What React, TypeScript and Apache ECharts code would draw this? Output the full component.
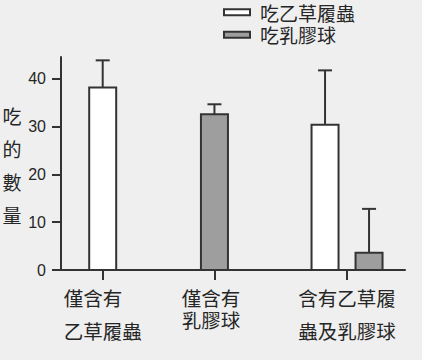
import React, { useEffect, useRef } from 'react';
import * as echarts from 'echarts';

// ---- data ----
const categories = ['僅含有\n乙草履蟲', '僅含有\n乳膠球', '含有乙草履\n蟲及乳膠球'];
const seriesNames = ['吃乙草履蟲', '吃乳膠球'];
const preyMean = [38.2, null, 30.4];
const preyErrTop = [43.9, null, 41.8];
const beadMean = [null, 32.6, 3.6];
const beadErrTop = [null, 34.7, 12.8];
const yTicks = [0, 10, 20, 30, 40];
const yTitle = '吃的數量';

// ---- layout (axis positions of the groups, in x-axis units) ----
const groupPos = [1, 3.68, 6.86];
const xMax = 8.25;
const yMax = 44.6;

const CJK = '"Noto Sans CJK TC", "Noto Sans CJK SC", sans-serif';
const LINE = '#333';
const BG = '#efefef';
const TXT = '#262626';
const FS = 19.5;

function buildData(mean: (number | null)[], err: (number | null)[], other: (number | null)[], side: number) {
  const out: any[] = [];
  mean.forEach((m, i) => {
    if (m == null) return;
    const shared = other[i] != null ? side : 0;
    out.push([groupPos[i], m, err[i], shared]);
  });
  return out;
}

function renderBar(fill: string) {
  return (params: any, api: any) => {
    const x = api.value(0);
    const y = api.value(1);
    const e = api.value(2);
    const side = api.value(3);
    const base = api.coord([x, 0]);
    const top = api.coord([x, y]);
    const et = api.coord([x, e]);
    const cx = base[0] + side * 22;
    const w = 27;
    return {
      type: 'group',
      children: [
        {
          type: 'line',
          shape: { x1: cx, y1: top[1], x2: cx, y2: et[1] },
          style: { stroke: LINE, lineWidth: 2 },
        },
        {
          type: 'line',
          shape: { x1: cx - 7, y1: et[1], x2: cx + 7, y2: et[1] },
          style: { stroke: LINE, lineWidth: 2 },
        },
        {
          type: 'rect',
          shape: { x: cx - w / 2, y: top[1], width: w, height: base[1] - top[1] },
          style: { fill, stroke: LINE, lineWidth: 2 },
        },
      ],
    };
  };
}

export default function App() {
  const ref = useRef<HTMLDivElement>(null);
  useEffect(() => {
    if (!ref.current) return;
    const chart = echarts.init(ref.current, null, { renderer: 'svg' });
    const fills = ['#ffffff', '#9e9e9e'];
    const tok = { fontFamily: CJK, fontSize: FS, color: TXT, align: 'left' };
    const option: any = {
      animation: false,
      backgroundColor: BG,
      grid: { left: 61, right: 17, top: 57, bottom: 90 },
      legend: {
        orient: 'vertical',
        left: 223,
        top: 1,
        padding: 0,
        itemGap: 0,
        itemWidth: 26,
        itemHeight: 6,
        icon: 'rect',
        data: seriesNames.map((n, i) => ({
          name: n,
          itemStyle: { color: fills[i], borderColor: LINE, borderWidth: 2 },
        })),
        textStyle: {
          fontFamily: CJK,
          fontSize: 19,
          lineHeight: 22.5,
          color: TXT,
          padding: [0, 0, 0, 5],
        },
      },
      xAxis: {
        type: 'value',
        min: 0,
        max: xMax,
        splitLine: { show: false },
        axisLine: { show: true, lineStyle: { color: LINE, width: 2 } },
        axisTick: {
          show: true,
          customValues: groupPos,
          length: 10,
          lineStyle: { color: LINE, width: 2 },
        },
        axisLabel: {
          customValues: groupPos,
          margin: 11,
          formatter: (v: number) => {
            let idx = 0;
            groupPos.forEach((p, i) => {
              if (Math.abs(p - v) < Math.abs(groupPos[idx] - v)) idx = i;
            });
            const lines = categories[idx].split('\n');
            if (idx === 1) return `{a2|${lines[0]}}\n{c|${lines[1]}}`;
            return `{a|${lines[0]}}\n{b|${lines[1]}}`;
          },
          rich: {
            a: { ...tok, lineHeight: 32 },
            b: { ...tok, lineHeight: 34 },
            a2: { ...tok, lineHeight: 32, padding: [0, 7, 0, 0] },
            c: { ...tok, lineHeight: 12, padding: [0, 7, 0, 0] },
          },
        },
      },
      yAxis: {
        type: 'value',
        min: 0,
        max: yMax,
        splitLine: { show: false },
        axisLine: { show: true, lineStyle: { color: LINE, width: 2 } },
        axisTick: {
          show: true,
          customValues: yTicks,
          length: 9,
          lineStyle: { color: LINE, width: 2 },
        },
        axisLabel: {
          customValues: yTicks,
          margin: 15,
          fontFamily: '"Liberation Sans", Arial, sans-serif',
          fontSize: 16,
          color: TXT,
        },
      },
      graphic: [
        {
          type: 'text',
          x: 12,
          y: 165,
          style: {
            text: yTitle.split('').join('\n'),
            fontFamily: CJK,
            fontSize: 19,
            lineHeight: 33.3,
            fill: TXT,
            align: 'center',
            verticalAlign: 'middle',
          },
        },
      ],
      series: [
        {
          type: 'custom',
          name: seriesNames[0],
          itemStyle: { color: fills[0], borderColor: LINE, borderWidth: 2 },
          renderItem: renderBar(fills[0]),
          encode: { x: 0, y: 1 },
          data: buildData(preyMean, preyErrTop, beadMean, -1),
        },
        {
          type: 'custom',
          name: seriesNames[1],
          itemStyle: { color: fills[1], borderColor: LINE, borderWidth: 2 },
          renderItem: renderBar(fills[1]),
          encode: { x: 0, y: 1 },
          data: buildData(beadMean, beadErrTop, preyMean, 1),
        },
      ],
    };
    chart.setOption(option);
    return () => chart.dispose();
  }, []);
  return (
    <div
      ref={ref}
      style={{ position: 'fixed', left: 0, top: 0, width: 422, height: 360, background: BG }}
    />
  );
}
